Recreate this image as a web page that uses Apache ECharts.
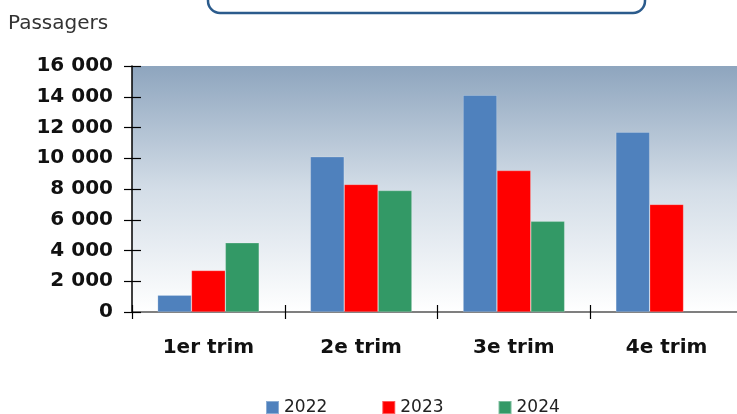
<!DOCTYPE html>
<html><head><meta charset="utf-8">
<script src="https://cdn.jsdelivr.net/npm/echarts@6/dist/echarts.min.js"></script>
<style>html,body{margin:0;padding:0;background:#fff;overflow:hidden;width:737px;height:414px}#c{width:743px;height:414px}</style>
</head><body><div id="c"></div>
<script>
var categories = ['1er trim', '2e trim', '3e trim', '4e trim'];
var seriesNames = ['2022', '2023', '2024'];
var values2022 = [1100, 10100, 14100, 11700];
var values2023 = [2700, 8300, 9200, 7000];
var values2024 = [4500, 7900, 5900, null];
var yTicks = [0, 2000, 4000, 6000, 8000, 10000, 12000, 14000, 16000];
var yTitle = 'Passagers';

var colors = ['#4F81BD', '#FF0000', '#339966'];
var fmt = function (v) { return String(v).replace(/\B(?=(\d{3})+(?!\d))/g, ' '); };
var chart = echarts.init(document.getElementById('c'), null, {renderer: 'canvas'});
var yMin = yTicks[0], yMax = yTicks[yTicks.length - 1], yInt = yTicks[1] - yTicks[0];
var font = 'DejaVu Sans';
var allVals = [values2022, values2023, values2024];
chart.setOption({
  animation: false,
  backgroundColor: '#ffffff',
  color: colors,
  textStyle: {fontFamily: font},
  grid: {
    left: 132, top: 66, height: 246, right: 0, show: true, borderWidth: 0,
    backgroundColor: new echarts.graphic.LinearGradient(0, 0, 0, 1, [
      {offset: 0, color: '#8EA5BE'}, {offset: 0.5, color: '#D3DDE7'}, {offset: 1, color: '#FFFFFF'}
    ])
  },
  legend: {
    left: 265, top: 399, padding: 0, itemWidth: 13, itemHeight: 13, itemGap: 54, icon: 'rect',
    textStyle: {fontFamily: font, fontSize: 17, color: '#222'},
    data: seriesNames
  },
  graphic: [
    {type: 'rect', shape: {x: 208, y: -30, width: 437, height: 43, r: 12},
     style: {fill: '#fff', stroke: '#2B5B8C', lineWidth: 2.5}},
    {type: 'text', left: 8, top: 14,
     style: {text: yTitle, fontFamily: font, fontSize: 20, fill: '#333'}}
  ],
  xAxis: [
    {type: 'category', data: categories, position: 'bottom',
     axisLine: {lineStyle: {color: '#555', width: 1.5}},
     axisTick: {show: true, inside: false, length: 7, lineStyle: {color: '#000', width: 1.2}},
     axisLabel: {margin: 26, fontFamily: font, fontSize: 20, fontWeight: 'bold', color: '#111'}},
    {type: 'category', data: categories, position: 'bottom',
     axisLine: {show: false},
     axisTick: {show: true, inside: true, length: 7, lineStyle: {color: '#000', width: 1.2}},
     axisLabel: {show: false}}
  ],
  yAxis: [
    {type: 'value', min: yMin, max: yMax, interval: yInt, position: 'left',
     splitLine: {show: false},
     axisLine: {show: true, lineStyle: {color: '#000', width: 1.5}},
     axisTick: {show: true, inside: false, length: 8, lineStyle: {color: '#000', width: 1.2}},
     axisLabel: {margin: 19, fontFamily: font, fontSize: 20, fontWeight: 'bold', color: '#111', formatter: fmt}},
    {type: 'value', min: yMin, max: yMax, interval: yInt, position: 'left',
     splitLine: {show: false},
     axisLine: {show: false},
     axisTick: {show: true, inside: true, length: 9, lineStyle: {color: '#000', width: 1.2}},
     axisLabel: {show: false}}
  ],
  series: seriesNames.map(function (n, i) {
    return {name: n, type: 'bar', xAxisIndex: 0, yAxisIndex: 0, data: allVals[i],
      barGap: '0%', barCategoryGap: '33.5%',
      itemStyle: {color: colors[i], borderColor: 'rgba(255,255,255,0.35)', borderWidth: 0.6}};
  })
});
</script></body></html>
